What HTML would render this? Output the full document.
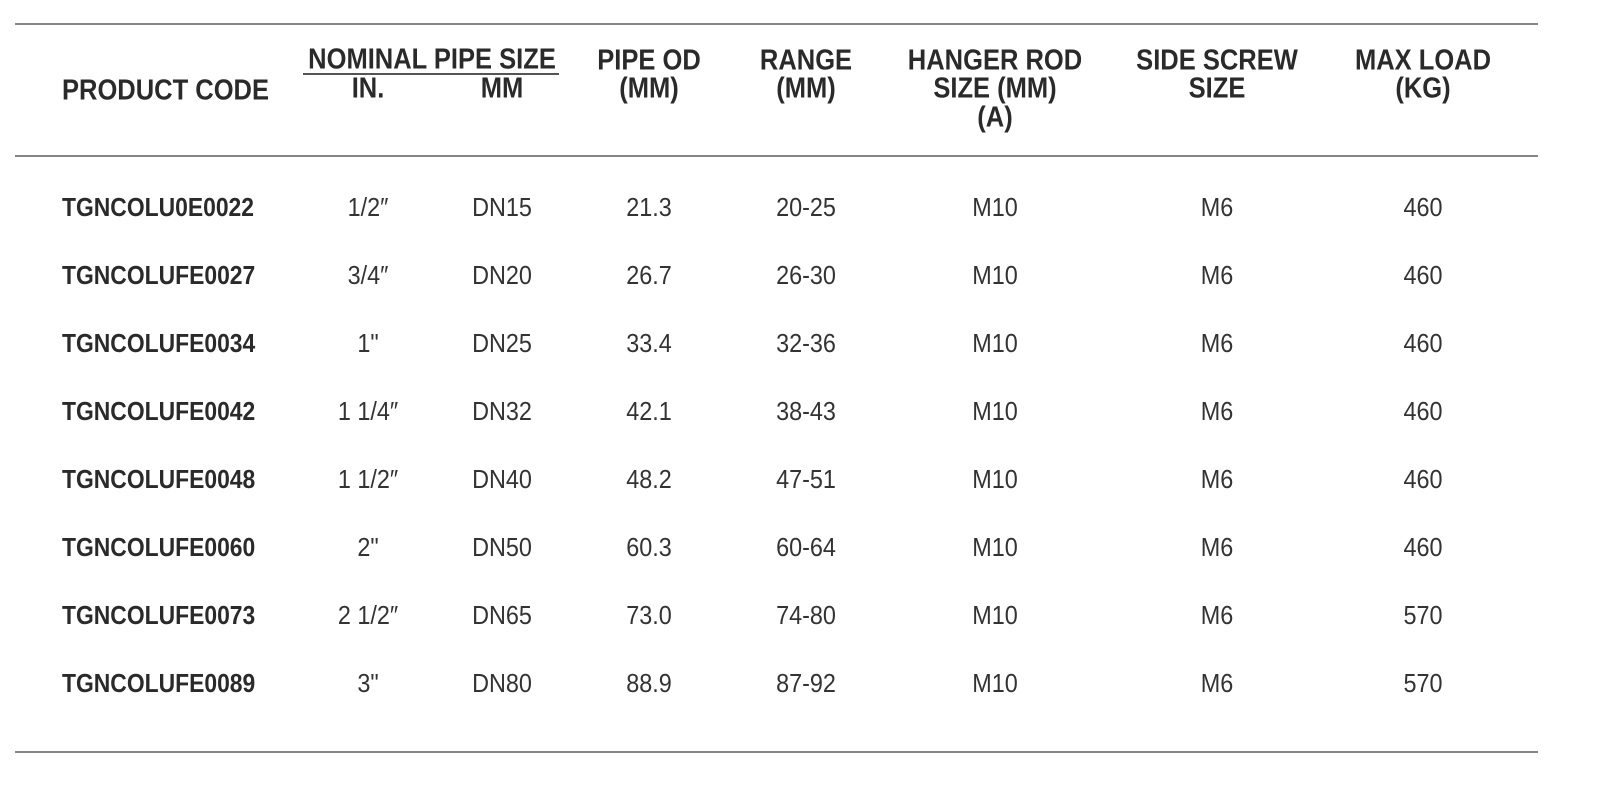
<!DOCTYPE html>
<html><head><meta charset="utf-8"><style>
html,body{margin:0;padding:0;background:#fff;}
#page{position:relative;width:1600px;height:788px;overflow:hidden;font-family:"Liberation Sans",sans-serif;color:#333;}
.rule{position:absolute;left:15px;width:1523px;height:2px;background:#858585;}
.t{position:absolute;white-space:nowrap;transform:translate(-50%,-50%) scaleX(.88);line-height:1;}
.h{font-weight:bold;font-size:29px;color:#2a2a2a;}
.c{font-size:26px;font-weight:500;transform:translate(-50%,-50%) scaleX(.9);}
.l{transform:translate(0,-50%) scaleX(.88);transform-origin:left center;}
.code{font-weight:bold;font-size:26px;color:#2a2a2a;}
</style></head><body>
<div id="page">
<div class="rule" style="top:23px"></div>
<div class="rule" style="top:155px"></div>
<div class="rule" style="top:751px"></div>
<div style="position:absolute;left:303px;top:73px;width:256px;height:2px;background:#555"></div>

<div class="t h l" style="left:62px;top:91px">PRODUCT CODE</div>
<div class="t h" style="left:432px;top:60px">NOMINAL PIPE SIZE</div>
<div class="t h" style="left:368px;top:89px">IN.</div>
<div class="t h" style="left:502px;top:89px">MM</div>
<div class="t h" style="left:649px;top:61px">PIPE OD</div>
<div class="t h" style="left:649px;top:89px">(MM)</div>
<div class="t h" style="left:806px;top:61px">RANGE</div>
<div class="t h" style="left:806px;top:89px">(MM)</div>
<div class="t h" style="left:995px;top:61px">HANGER ROD</div>
<div class="t h" style="left:995px;top:89px">SIZE (MM)</div>
<div class="t h" style="left:995px;top:118px">(A)</div>
<div class="t h" style="left:1217px;top:61px">SIDE SCREW</div>
<div class="t h" style="left:1217px;top:89px">SIZE</div>
<div class="t h" style="left:1423px;top:61px">MAX LOAD</div>
<div class="t h" style="left:1423px;top:89px">(KG)</div>
</div>
<script>
const codes=["TGNCOLU0E0022","TGNCOLUFE0027","TGNCOLUFE0034","TGNCOLUFE0042","TGNCOLUFE0048","TGNCOLUFE0060","TGNCOLUFE0073","TGNCOLUFE0089"];
const inches=["1/2\u2033","3/4\u2033","1\"","1 1/4\u2033","1 1/2\u2033","2\"","2 1/2\u2033","3\""];
const dn=["DN15","DN20","DN25","DN32","DN40","DN50","DN65","DN80"];
const od=["21.3","26.7","33.4","42.1","48.2","60.3","73.0","88.9"];
const ranges=["20-25","26-30","32-36","38-43","47-51","60-64","74-80","87-92"];
const rod=["M10","M10","M10","M10","M10","M10","M10","M10"];
const screw=["M6","M6","M6","M6","M6","M6","M6","M6"];
const load=["460","460","460","460","460","460","570","570"];
const page=document.getElementById('page');
const cols=[[inches,368,'inch'],[dn,502,'dn'],[od,649,'pipe-od'],[ranges,806,'range'],[rod,995,'hanger-rod'],[screw,1217,'side-screw'],[load,1423,'max-load']];
codes.forEach((c,i)=>{
  const y=207+i*68;
  const d=document.createElement('div');
  d.className='t code l';
  d.style.left='62px';d.style.top=y+'px';
  d.textContent=c;
  
  
  page.appendChild(d);
  cols.forEach(([arr,x,n])=>{
    const e=document.createElement('div');
    e.className='t c';
    e.style.left=x+'px';e.style.top=y+'px';
    e.textContent=arr[i];
    
    
    page.appendChild(e);
  });
});
</script>
</body></html>
